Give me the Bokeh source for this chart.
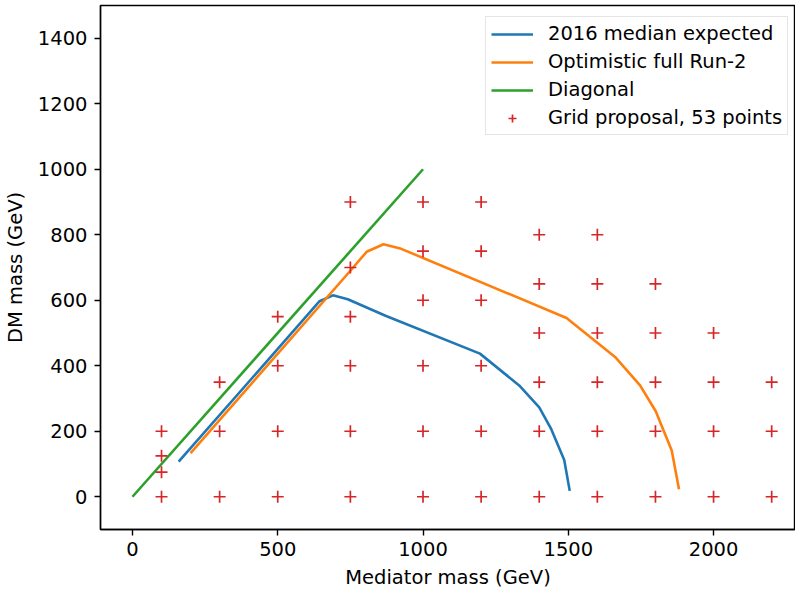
from bokeh.plotting import figure
from bokeh.models import Range1d, FixedTicker, Legend, LegendItem
from bokeh.embed import file_html
from bokeh.resources import INLINE

# 2016 median expected limit contour
median_x = [159, 644, 690, 741, 873, 1196, 1331, 1400, 1440, 1486, 1505]
median_y = [107, 597, 615, 603, 552, 437, 340, 273, 209, 112, 18]

# Optimistic full Run-2 contour
optim_x = [200, 747, 806, 864, 925, 1494, 1661, 1747, 1801, 1856, 1881]
optim_y = [133, 687, 748, 771, 757, 546, 427, 340, 261, 141, 23]

# Diagonal
diag_x = [0, 1000]
diag_y = [0, 1000]

# Grid proposal, 53 points
grid_x = [100, 300, 500, 750, 1000, 1200, 1400, 1600, 1800, 2000, 2200,
          100, 100,
          100, 300, 500, 750, 1000, 1200, 1400, 1600, 1800, 2000, 2200,
          300, 1400, 1600, 1800, 2000, 2200,
          500, 750, 1000, 1200,
          1400, 1600, 1800, 2000,
          500, 750,
          1000, 1200,
          1400, 1600, 1800,
          750,
          1000, 1200,
          1400, 1600,
          750, 1000, 1200]
grid_y = [0, 0, 0, 0, 0, 0, 0, 0, 0, 0, 0,
          75, 125,
          200, 200, 200, 200, 200, 200, 200, 200, 200, 200, 200,
          350, 350, 350, 350, 350, 350,
          400, 400, 400, 400,
          500, 500, 500, 500,
          550, 550,
          600, 600,
          650, 650, 650,
          700,
          750, 750,
          800, 800,
          900, 900, 900]

x_ticks = [0, 500, 1000, 1500, 2000]
y_ticks = [0, 200, 400, 600, 800, 1000, 1200, 1400]

FONT = "DejaVu Sans"
FS = "19.5px"

p = figure(width=795, height=594, x_range=Range1d(-110, 2282), y_range=Range1d(-100, 1500),
           output_backend="svg", toolbar_location=None, title=None,
           min_border_left=100, min_border_top=5, min_border_right=0, min_border_bottom=65)

p.xgrid.visible = False
p.ygrid.visible = False
p.outline_line_color = "black"
p.outline_line_width = 1.4
p.outline_line_alpha = 1.0

p.xaxis.ticker = FixedTicker(ticks=x_ticks)
p.yaxis.ticker = FixedTicker(ticks=y_ticks)
for ax in (p.xaxis, p.yaxis):
    ax.major_tick_out = 6
    ax.major_tick_in = 0
    ax.minor_tick_out = 0
    ax.minor_tick_in = 0
    ax.major_tick_line_width = 1.4
    ax.axis_line_width = 1.4
    ax.major_label_text_font = FONT
    ax.major_label_text_font_size = FS
    ax.major_label_text_color = "black"
    ax.axis_label_text_font = FONT
    ax.axis_label_text_font_size = FS
    ax.axis_label_text_font_style = "normal"
    ax.axis_label_text_color = "black"
p.xaxis.axis_label = "Mediator mass (GeV)"
p.yaxis.axis_label = "DM mass (GeV)"
p.xaxis.major_label_standoff = 6
p.yaxis.major_label_standoff = 7
p.xaxis.axis_label_standoff = 7
p.yaxis.axis_label_standoff = 8

r1 = p.line(median_x, median_y, line_color="#1f77b4", line_width=2.6)
r2 = p.line(optim_x, optim_y, line_color="#ff7f0e", line_width=2.6)
r3 = p.line(diag_x, diag_y, line_color="#2ca02c", line_width=2.6)
r4 = p.scatter(grid_x, grid_y, marker="cross", size=12, line_color="#d62728", line_width=1.7)

legend = Legend(items=[
    LegendItem(label="2016 median expected", renderers=[r1]),
    LegendItem(label="Optimistic full Run-2", renderers=[r2]),
    LegendItem(label="Diagonal", renderers=[r3]),
    LegendItem(label="Grid proposal, 53 points", renderers=[r4]),
], location=(385, 394))
legend.label_text_font = FONT
legend.label_text_font_size = FS
legend.label_text_color = "black"
legend.glyph_width = 42
legend.glyph_height = 20
legend.label_height = 20
legend.spacing = 5
legend.padding = 5
legend.margin = 0
legend.label_standoff = 15
legend.border_line_color = "#cccccc"
legend.border_line_width = 1
legend.background_fill_alpha = 0.8
p.add_layout(legend)

open("out.html", "w").write(file_html(p, INLINE))
